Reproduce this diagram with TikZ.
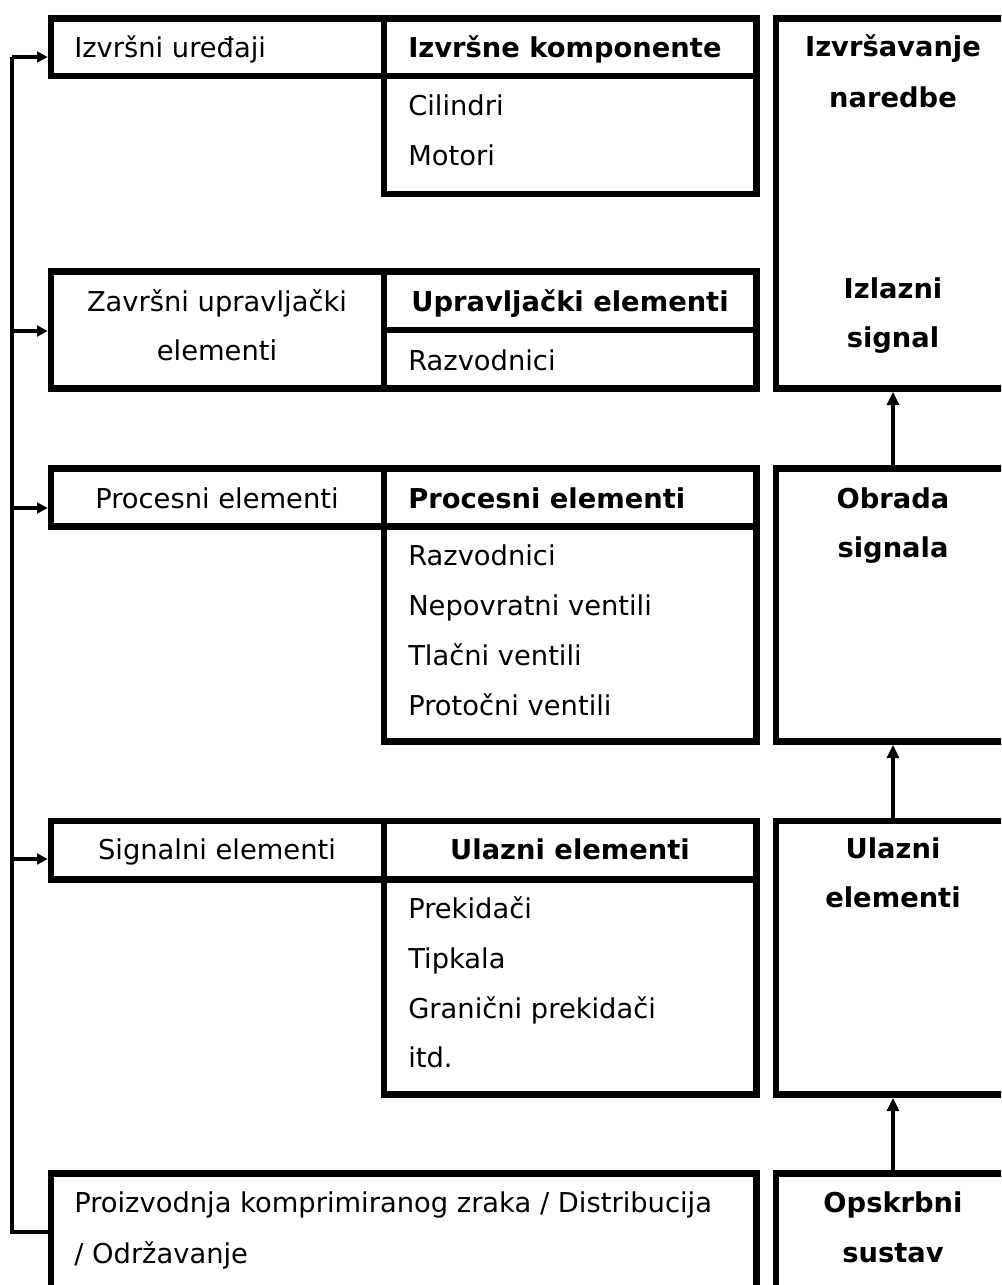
\documentclass[tikz,border=0pt]{standalone}
\usepackage{fontspec}
\setmainfont{DejaVu Sans}
\usetikzlibrary{fit,arrows.meta}

\tikzset{
  cell/.style={draw, line width=4.9pt, inner sep=0pt},
  txt/.style={inner sep=0.75pt, font=\fontsize{20.5}{24}\selectfont},
  head/.style={inner sep=0.75pt, font=\fontsize{20.5}{24}\selectfont\bfseries},
  bus/.style={line width=3pt},
  arr/.style={line width=2.3pt, -{Triangle[length=8pt,width=8pt]}},
  uparr/.style={line width=2.3pt, -{Triangle[length=10pt,width=9pt]}},
}

\begin{document}
\begin{tikzpicture}[x=0.75pt,y=0.75pt,yscale=-1,xscale=1]
\useasboundingbox (0,0) rectangle (1001,1285);
\clip (0,0) rectangle (1001,1285);

%Shape: Rectangle [row 1]
\node [cell, fit={(51,18.5) (384,76)}] (r1L) {};
\node [cell, fit={(384,18.5) (756.5,76)}] (r1H) {};
\node [cell, fit={(384,76) (756.5,194)}] (r1B) {};
%Shape: Rectangle [row 2]
\node [cell, fit={(51,271.5) (384,388.5)}] (r2L) {};
\node [cell, fit={(384,271.5) (756.5,330)}] (r2H) {};
\node [cell, fit={(384,330) (756.5,388.5)}] (r2B) {};
%Shape: Rectangle [row 3]
\node [cell, fit={(51,468.5) (384,526.5)}] (r3L) {};
\node [cell, fit={(384,468.5) (756.5,526.5)}] (r3H) {};
\node [cell, fit={(384,526.5) (756.5,741.5)}] (r3B) {};
%Shape: Rectangle [row 4]
\node [cell, fit={(51,821) (384,879.5)}] (r4L) {};
\node [cell, fit={(384,821) (756.5,879.5)}] (r4H) {};
\node [cell, fit={(384,879.5) (756.5,1094.5)}] (r4B) {};
%Shape: Rectangle [row 5]
\node [cell, fit={(51,1173.5) (756.5,1310)}] (r5) {};

%Shape: Rectangle [right column]
\node [cell, fit={(776,18.5) (1010,388.5)}] (c1) {};
\node [cell, fit={(776,468.5) (1010,741.5)}] (c2) {};
\node [cell, fit={(776,821) (1010,1094.5)}] (c3) {};
\node [cell, fit={(776,1173.5) (1010,1310)}] (c4) {};

%Straight Lines [left bus]
\coordinate (b1) at (12,57);
\coordinate (b2) at (12,331);
\coordinate (b3) at (12,508);
\coordinate (b4) at (12,859);
\coordinate (b5) at (12,1232);
\draw [bus] (b1) -- (b5) -- (b5 -| r5.west);
\foreach \k/\n in {1/r1L,2/r2L,3/r3L,4/r4L}
  \draw [arr] (b\k) -- (b\k -| \n.west);

%Straight Lines [right column]
\draw [uparr] (c2.north) -- (c1.south);
\draw [uparr] (c3.north) -- (c2.south);
\draw [uparr] (c4.north) -- (c3.south);

% Text Node
\node [txt, anchor=base west] (t1) at (73,57) {Izvršni uređaji};
\node [head, anchor=base west] (h1) at (407,57) {Izvršne komponente};
\node [txt, anchor=base west] (l11) at (407,115) {Cilindri};
\node [txt, anchor=base west] (l12) at (407,165) {Motori};
% Text Node
\node [txt, anchor=base] (t2a) at (217,311) {Završni upravljački};
\node [txt, anchor=base] (t2b) at (217,360) {elementi};
\node [head, anchor=base] (h2) at (570,311) {Upravljački elementi};
\node [txt, anchor=base west] (l21) at (407,370) {Razvodnici};
% Text Node
\node [txt, anchor=base] (t3) at (217,508) {Procesni elementi};
\node [head, anchor=base west] (h3) at (407,508) {Procesni elementi};
\node [txt, anchor=base west] (l31) at (407,565) {Razvodnici};
\node [txt, anchor=base west] (l32) at (407,615) {Nepovratni ventili};
\node [txt, anchor=base west] (l33) at (407,665) {Tlačni ventili};
\node [txt, anchor=base west] (l34) at (407,715) {Protočni ventili};
% Text Node
\node [txt, anchor=base] (t4) at (217,859) {Signalni elementi};
\node [head, anchor=base] (h4) at (570,859) {Ulazni elementi};
\node [txt, anchor=base west] (l41) at (407,918) {Prekidači};
\node [txt, anchor=base west] (l42) at (407,968) {Tipkala};
\node [txt, anchor=base west] (l43) at (407,1018) {Granični prekidači};
\node [txt, anchor=base west] (l44) at (407,1067) {itd.};
% Text Node
\node [txt, anchor=base west] (t5a) at (73,1212) {Proizvodnja komprimiranog zraka / Distribucija};
\node [txt, anchor=base west] (t5b) at (73,1263) {/ Održavanje};

% Text Node
\node [head, anchor=base] (k1a) at (893,56) {Izvršavanje};
\node [head, anchor=base] (k1b) at (893,107) {naredbe};
\node [head, anchor=base] (k1c) at (893,298) {Izlazni};
\node [head, anchor=base] (k1d) at (893,347) {signal};
\node [head, anchor=base] (k2a) at (893,508) {Obrada};
\node [head, anchor=base] (k2b) at (893,557) {signala};
\node [head, anchor=base] (k3a) at (893,858) {Ulazni};
\node [head, anchor=base] (k3b) at (893,907) {elementi};
\node [head, anchor=base] (k4a) at (893,1212) {Opskrbni};
\node [head, anchor=base] (k4b) at (893,1262) {sustav};

\end{tikzpicture}
\end{document}
